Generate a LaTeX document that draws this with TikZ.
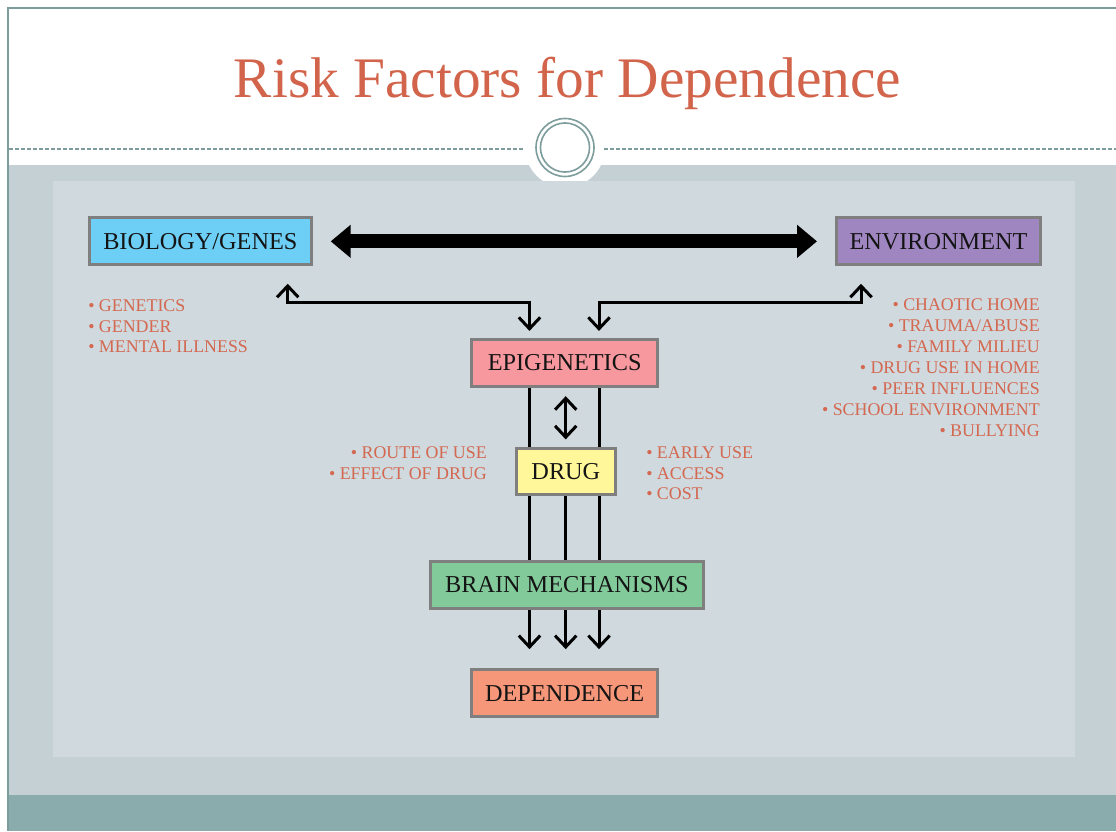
\documentclass[tikz,border=0pt]{standalone}
\usepackage{fontspec}
\setmainfont{Liberation Serif}
\usetikzlibrary{arrows.meta,calc}

\definecolor{framec}{HTML}{7D9C9C}
\definecolor{slidegray}{HTML}{C5D0D5}
\definecolor{panelc}{HTML}{CFD9DE}
\definecolor{bandc}{HTML}{8AACAD}
\definecolor{titlec}{RGB}{210,100,75}
\definecolor{bulletc}{RGB}{212,104,80}
\definecolor{boxline}{HTML}{7F7F7F}
\definecolor{biofill}{HTML}{6DCFF6}
\definecolor{envfill}{HTML}{A086C0}
\definecolor{epifill}{HTML}{F6989D}
\definecolor{drugfill}{HTML}{FFF79A}
\definecolor{brainfill}{HTML}{82CA9A}
\definecolor{depfill}{HTML}{F7977A}

\begin{document}
\begin{tikzpicture}[x=0.75pt,y=-0.75pt,
  box/.style={draw=boxline, line width=2.25pt, inner sep=0pt,
    minimum height=35.4pt, font=\fontsize{18.2}{20}\selectfont, text=black!92},
  bulletitem/.style={inner sep=0pt, text=bulletc, font=\fontsize{13.4}{15}\selectfont},
  conn/.style={line width=2.25pt, black},
  tip/.style={conn, -{Straight Barb[length=8.5pt,width=16pt]}},
  twotip/.style={conn, {Straight Barb[length=8.5pt,width=16pt]}-{Straight Barb[length=8.5pt,width=16pt]}},
  bigarrow/.style={line width=10.5pt, black,
    {Triangle[length=15pt,width=24pt]}-{Triangle[length=15pt,width=24pt]}}
]
\useasboundingbox (0,0) rectangle (1116,831);

% slide background
\fill[white] (0,0) rectangle (1116,831);
\fill[slidegray] (8,165) rectangle (1116,795);
\fill[white] (565,147.5) circle[radius=30pt];
\fill[panelc] (53,181) rectangle (1075,757);
\fill[bandc] (8,795) rectangle (1116,831);
\draw[framec, line width=1.5pt] (1116,8) -- (8,8) -- (8,831);

% title rule with ring ornament
\draw[framec, line width=1.5pt, dash pattern=on 3pt off 1.5pt] (9,149) -- (525,149);
\draw[framec, line width=1.5pt, dash pattern=on 3pt off 1.5pt] (604,149) -- (1116,149);
\draw[framec, line width=1.2pt] (565,147.5) circle[radius=21.75pt];
\draw[framec, line width=1.2pt] (565,147.5) circle[radius=18.4pt];

\node[anchor=base, text=titlec, inner sep=0pt, font=\fontsize{43}{50}\selectfont]
  (title) at (567.5,97.3) {Risk Factors for Dependence};

% factor boxes
\node[box, fill=biofill, minimum width=166.3pt] (bio) at (200.35,241.35) {BIOLOGY/GENES};
\node[box, fill=envfill, minimum width=153pt] (env) at (938.5,241.35) {ENVIRONMENT};
\node[box, fill=epifill, minimum width=139.7pt] (epi) at (564.65,362.7) {EPIGENETICS};
\node[box, fill=brainfill, minimum width=205pt] (brain) at (566.85,585) {BRAIN MECHANISMS};
\node[box, fill=depfill, minimum width=139.7pt] (dep) at (564.65,693.3) {DEPENDENCE};

% columns of the three pathways
\coordinate (cl) at (529.5,0);
\coordinate (cm) at (565.7,0);
\coordinate (cr) at (599,0);

% biology <-> environment
\draw[bigarrow, shorten <=13.5pt, shorten >=13.5pt] (bio.east) -- (env.west);

% elbow links into epigenetics
\draw[twotip] ($(bio.south east)+(-25,17.3)$) -- ++(0,18.7) -| ($(epi.north -| cl)+(0,-6.7)$);
\draw[twotip] ($(env.south west)+(26,17.3)$) -- ++(0,18.7) -| ($(epi.north -| cr)+(0,-6.7)$);

% epigenetics pathways down to brain mechanisms (behind the drug box)
\draw[conn] (epi.south -| cl) -- (brain.north -| cl);
\draw[conn] (epi.south -| cr) -- (brain.north -| cr);

\node[box, fill=drugfill, minimum width=74pt, minimum height=34.7pt] (drug) at (565.85,471.35) {DRUG};

\draw[twotip, shorten <=6.3pt, shorten >=5.5pt] (epi.south -| cm) -- (drug.north -| cm);
\draw[conn] (drug.south -| cm) -- (brain.north -| cm);

% brain mechanisms to dependence
\foreach \c in {cl,cm,cr}
  \draw[tip, shorten >=14.3pt] (brain.south -| \c) -- (dep.north -| \c);

% factor lists
\foreach \t [count=\i] in {GENETICS, GENDER, MENTAL ILLNESS}
  \node[bulletitem, anchor=base west] (bl\i) at (88,{311.7+20.6*(\i-1)}) {• \t};
\foreach \t [count=\i] in {CHAOTIC HOME, TRAUMA/ABUSE, FAMILY MILIEU, DRUG USE IN HOME,
    PEER INFLUENCES, SCHOOL ENVIRONMENT, BULLYING}
  \node[bulletitem, anchor=base east] (el\i) at (1040,{310.7+20.9*(\i-1)}) {• \t};
\foreach \t [count=\i] in {ROUTE OF USE, EFFECT OF DRUG}
  \node[bulletitem, anchor=base east] (dl\i) at (487,{458.3+20.7*(\i-1)}) {• \t};
\foreach \t [count=\i] in {EARLY USE, ACCESS, COST}
  \node[bulletitem, anchor=base west] (dr\i) at (646,{458.3+20.7*(\i-1)}) {• \t};
\end{tikzpicture}
\end{document}
